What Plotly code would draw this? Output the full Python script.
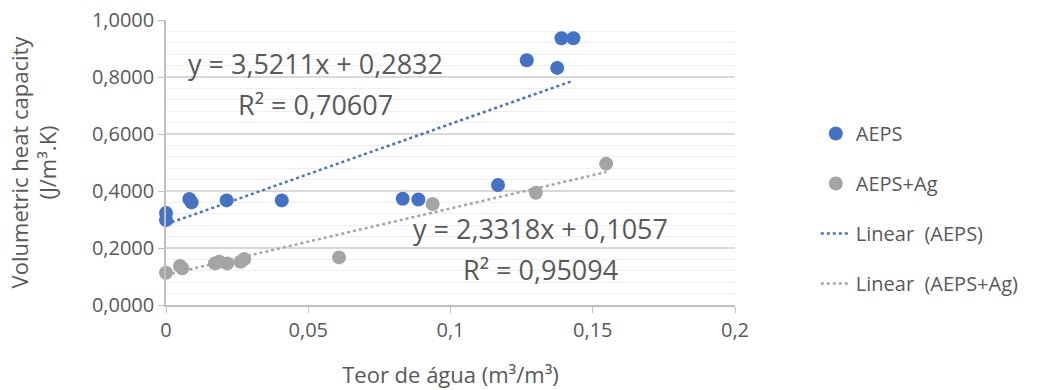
import plotly.graph_objects as go

# AEPS series
aeps_x = [0.0, 0.0, 0.0082, 0.0090, 0.0213, 0.0407, 0.0832, 0.0887, 0.1167, 0.1268, 0.1375, 0.1390, 0.1432]
aeps_y = [0.323, 0.298, 0.372, 0.360, 0.367, 0.367, 0.373, 0.370, 0.421, 0.859, 0.832, 0.936, 0.936]

# AEPS+Ag series
ag_x = [0.0, 0.0049, 0.0057, 0.0172, 0.0187, 0.0215, 0.0262, 0.0275, 0.0608, 0.0937, 0.1300, 0.1547]
ag_y = [0.113, 0.137, 0.129, 0.146, 0.152, 0.146, 0.152, 0.161, 0.167, 0.354, 0.394, 0.496]

# Trendline coefficients (as shown on the chart)
aeps_slope, aeps_intercept, aeps_r2 = 3.5211, 0.2832, 0.70607
ag_slope, ag_intercept, ag_r2 = 2.3318, 0.1057, 0.95094

# Axis ticks
y_ticks = [0.0, 0.2, 0.4, 0.6, 0.8, 1.0]
x_ticks = [0.0, 0.05, 0.1, 0.15, 0.2]

BLUE = "#4472C4"
GRAY = "#A5A5A5"
TXT = "#595959"
FONT = "Open Sans"

def trend(xs, a, b):
    xe = [min(xs), max(xs)]
    return xe, [a * v + b for v in xe]

fig = go.Figure()
fig.add_trace(go.Scatter(x=aeps_x, y=aeps_y, mode="markers", name="AEPS",
                         marker=dict(color=BLUE, size=14), cliponaxis=False, legendgroup="a"))
fig.add_trace(go.Scatter(x=ag_x, y=ag_y, mode="markers", name="AEPS+Ag",
                         marker=dict(color=GRAY, size=14), cliponaxis=False, legendgroup="b"))
tx, ty = trend(aeps_x, aeps_slope, aeps_intercept)
fig.add_trace(go.Scatter(x=tx, y=ty, mode="lines", name="Linear  (AEPS)",
                         line=dict(color=BLUE, width=2.5, dash="dot"), legendgroup="c"))
tx, ty = trend(ag_x, ag_slope, ag_intercept)
fig.add_trace(go.Scatter(x=tx, y=ty, mode="lines", name="Linear  (AEPS+Ag)",
                         line=dict(color=GRAY, width=2.5, dash="dot"), legendgroup="d"))

def fmt(v, n):
    return f"{v:.{n}f}".replace(".", ",")

ann_font = dict(family=FONT, size=27, color=TXT)
fig.add_annotation(x=0.0524, y=0.849, text=f"y = {fmt(aeps_slope,4)}x + {fmt(aeps_intercept,4)}",
                   showarrow=False, font=ann_font)
fig.add_annotation(x=0.0524, y=0.705, text=f"R² = {fmt(aeps_r2,5)}", showarrow=False, font=ann_font)
fig.add_annotation(x=0.1315, y=0.270, text=f"y = {fmt(ag_slope,4)}x + {fmt(ag_intercept,4)}",
                   showarrow=False, font=ann_font)
fig.add_annotation(x=0.1315, y=0.123, text=f"R² = {fmt(ag_r2,5)}", showarrow=False, font=ann_font)

fig.update_layout(
    width=1051, height=390,
    margin=dict(l=166, r=316, t=20, b=85),
    plot_bgcolor="white", paper_bgcolor="white",
    separators=",.",
    font=dict(family=FONT, size=20, color=TXT),
    legend=dict(x=1.142, y=0.67, xanchor="left", yanchor="top",
                font=dict(family=FONT, size=20, color=TXT),
                tracegroupgap=21, traceorder="grouped", bgcolor="rgba(0,0,0,0)"),
    xaxis=dict(range=[0, 0.2], tickvals=x_ticks, showgrid=False, zeroline=False, automargin=False,
               showline=True, linecolor="#BFBFBF", linewidth=1.5,
               ticks="outside", ticklen=6, tickcolor="#BFBFBF", ticklabeloverflow="allow",
               tickfont=dict(size=20, color=TXT),
               title=dict(text="Teor de água (m³/m³)", font=dict(size=22, color=TXT), standoff=26)),
    yaxis=dict(range=[0, 1], tickvals=y_ticks, tickformat=".4f", showgrid=True, gridcolor="#D9D9D9",
               gridwidth=1.5, zeroline=False, automargin=False,
               showline=True, linecolor="#BFBFBF", linewidth=1.5,
               ticks="outside", ticklen=6, tickcolor="#BFBFBF", ticklabeloverflow="allow",
               tickfont=dict(size=20, color=TXT),
               minor=dict(dtick=0.04, showgrid=True, gridcolor="#EEEEEE", gridwidth=1),
               title=dict(text="Volumetric heat capacity<br>(J/m³.K)", font=dict(size=22, color=TXT), standoff=29)),
)

fig.write_html("out.html", config={"displayModeBar": False},
               post_script="document.body.style.margin='0';document.body.style.overflow='hidden';")
